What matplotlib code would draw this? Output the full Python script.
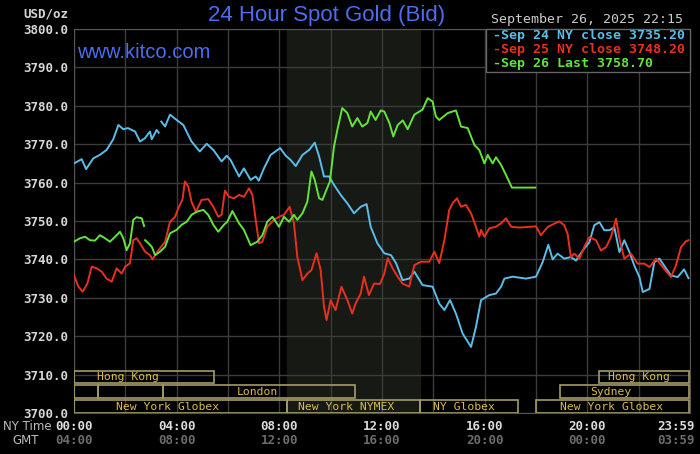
import numpy as np
import matplotlib.pyplot as plt
from matplotlib.patches import Rectangle
import matplotlib.transforms as mtransforms

# hodiny od 00:00 (NY cas), cena v USD/oz
sep24_h = [0.0, 0.3, 0.47, 0.75, 1.0, 1.27, 1.53, 1.73, 1.92, 2.1, 2.38, 2.57, 2.77, 2.96,
           3.03, 3.22, 3.3, 3.35, 3.4, 3.55, 3.74, 4.0, 4.26, 4.45, 4.58, 4.9, 5.17, 5.43,
           5.75, 5.95, 6.1, 6.43, 6.62, 6.88, 7.08, 7.2, 7.4, 7.66, 8.03, 8.25, 8.44, 8.64,
           8.9, 9.16, 9.38, 9.55, 9.74, 9.94, 10.13, 10.39, 10.65, 10.91, 11.17, 11.4, 11.56,
           11.82, 12.09, 12.35, 12.55, 12.8, 13.06, 13.26, 13.58, 13.97, 14.23, 14.43, 14.65,
           14.88, 15.14, 15.47, 15.66, 15.86, 16.18, 16.44, 16.64, 16.77, 17.09, 17.61, 18.0,
           18.26, 18.48, 18.65, 18.84, 19.1, 19.36, 19.56, 19.82, 20.08, 20.27, 20.47, 20.66,
           20.86, 21.05, 21.25, 21.44, 21.64, 21.83, 22.03, 22.16, 22.42, 22.61, 22.81, 23.06,
           23.26, 23.52, 23.77, 23.94]
sep24_p = [3765.0, 3766.1, 3763.5, 3766.3, 3767.2, 3768.5, 3771.3, 3775.0, 3773.9, 3774.2,
           3773.3, 3770.7, 3771.6, 3773.3, 3771.3, 3773.7, 3773.0, np.nan, 3775.9, 3774.6,
           3777.7, 3776.3, 3775.0, 3772.4, 3770.7, 3768.1, 3770.1, 3768.5, 3765.5, 3767.0,
           3765.9, 3761.6, 3763.7, 3760.7, 3761.6, 3760.5, 3763.7, 3767.2, 3769.0, 3767.0,
           3765.9, 3764.3, 3767.2, 3768.5, 3770.4, 3766.8, 3761.6, 3761.6, 3759.4, 3756.8,
           3754.6, 3752.0, 3753.7, 3754.4, 3748.5, 3744.2, 3741.6, 3741.1, 3739.0, 3734.6,
           3735.0, 3736.8, 3733.3, 3732.9, 3728.5, 3726.8, 3729.4, 3725.9, 3720.7, 3717.2,
           3722.4, 3729.4, 3730.7, 3731.1, 3732.9, 3735.0, 3735.5, 3735.0, 3735.5, 3739.3,
           3743.8, 3740.0, 3741.5, 3740.2, 3740.6, 3739.7, 3742.3, 3744.5, 3748.9, 3749.7,
           3747.6, 3747.6, 3748.4, 3741.9, 3745.0, 3741.9, 3738.4, 3735.4, 3731.5, 3732.3,
           3739.3, 3740.2, 3737.7, 3735.8, 3735.4, 3737.4, 3735.1]

sep25_h = [0.0, 0.17, 0.34, 0.52, 0.69, 0.88, 1.08, 1.27, 1.47, 1.66, 1.86, 1.99, 2.18, 2.31,
           2.44, 2.57, 2.77, 2.96, 3.06, 3.29, 3.55, 3.74, 3.94, 4.06, 4.23, 4.32, 4.45, 4.58,
           4.75, 4.97, 5.23, 5.43, 5.62, 5.75, 5.88, 6.04, 6.23, 6.43, 6.62, 6.82, 6.95, 7.08,
           7.21, 7.34, 7.53, 7.79, 7.99, 8.18, 8.4, 8.57, 8.7, 8.9, 9.09, 9.25, 9.45, 9.61,
           9.74, 9.84, 10.0, 10.19, 10.42, 10.65, 10.84, 10.97, 11.17, 11.3, 11.49, 11.69,
           11.92, 12.09, 12.22, 12.42, 12.61, 12.8, 13.06, 13.26, 13.52, 13.84, 14.04, 14.23,
           14.43, 14.62, 14.75, 14.92, 15.08, 15.27, 15.47, 15.66, 15.79, 15.86, 15.99, 16.18,
           16.44, 16.64, 16.83, 17.03, 17.35, 18.0, 18.19, 18.45, 18.71, 18.91, 19.1, 19.23,
           19.36, 19.49, 19.69, 19.88, 20.08, 20.34, 20.53, 20.73, 20.92, 21.12, 21.25, 21.44,
           21.7, 21.96, 22.22, 22.42, 22.68, 22.94, 23.26, 23.45, 23.65, 23.84, 23.94]
sep25_p = [3735.9, 3732.9, 3731.6, 3733.7, 3738.1, 3737.7, 3736.8, 3735.0, 3734.2, 3737.7,
           3736.3, 3738.1, 3739.0, 3745.0, 3745.5, 3744.2, 3742.0, 3741.1, 3740.0, 3742.4,
           3744.6, 3749.8, 3751.1, 3753.3, 3755.7, 3760.3, 3759.0, 3755.0, 3752.4, 3755.5,
           3755.7, 3753.7, 3751.1, 3751.6, 3757.9, 3756.3, 3755.9, 3756.8, 3756.3, 3758.5,
           3756.8, 3750.3, 3744.2, 3744.6, 3748.5, 3750.3, 3751.1, 3751.6, 3753.7, 3749.4,
           3740.7, 3734.6, 3736.3, 3737.2, 3741.6, 3737.2, 3727.7, 3724.2, 3729.4, 3726.8,
           3732.9, 3729.4, 3725.9, 3728.5, 3731.1, 3735.5, 3730.7, 3733.7, 3733.6, 3736.3,
           3740.3, 3737.6, 3735.5, 3733.7, 3732.9, 3738.5, 3739.4, 3739.4, 3742.0, 3739.0,
           3745.0, 3752.9, 3754.6, 3755.9, 3753.7, 3754.2, 3752.0, 3748.5, 3745.9, 3747.7,
           3745.9, 3748.1, 3748.5, 3749.4, 3750.7, 3748.5, 3748.3, 3748.6, 3746.3, 3748.4,
           3749.3, 3749.9, 3748.9, 3746.7, 3740.6, 3741.5, 3740.2, 3743.2, 3745.8, 3745.0,
           3742.3, 3743.2, 3745.8, 3750.6, 3745.4, 3740.2, 3741.5, 3738.9, 3738.9, 3738.0,
           3740.2, 3738.0, 3735.4, 3738.4, 3743.2, 3744.7, 3745.0]

sep26_h = [0.0, 0.23, 0.43, 0.62, 0.82, 1.01, 1.21, 1.4, 1.6, 1.79, 1.92, 2.05, 2.18, 2.31,
           2.44, 2.64, 2.73, 2.75, 2.77, 2.9, 3.03, 3.16, 3.35, 3.55, 3.74, 4.0, 4.19, 4.39,
           4.58, 4.78, 5.04, 5.23, 5.43, 5.62, 5.84, 5.97, 6.17, 6.43, 6.62, 6.88, 7.14, 7.34,
           7.53, 7.73, 7.99, 8.18, 8.38, 8.57, 8.7, 8.9, 9.09, 9.25, 9.38, 9.55, 9.68, 9.81,
           9.97, 10.13, 10.26, 10.45, 10.65, 10.84, 11.04, 11.23, 11.43, 11.56, 11.75, 11.95,
           12.09, 12.29, 12.44, 12.61, 12.81, 13.0, 13.26, 13.58, 13.78, 13.97, 14.1, 14.23,
           14.56, 14.88, 15.08, 15.34, 15.6, 15.79, 15.99, 16.12, 16.31, 16.44, 16.64, 16.83,
           17.06, 17.48, 17.97]
sep26_p = [3744.6, 3745.5, 3745.9, 3745.0, 3744.9, 3746.3, 3745.5, 3744.6, 3745.9, 3747.2,
           3745.5, 3742.4, 3744.2, 3750.3, 3751.0, 3750.7, 3748.7, np.nan, 3745.0, 3744.2,
           3743.3, 3741.1, 3742.0, 3743.3, 3746.8, 3747.7, 3749.0, 3749.8, 3751.6, 3752.4,
           3752.9, 3751.6, 3749.0, 3747.2, 3749.0, 3749.8, 3752.6, 3749.4, 3747.7, 3743.7,
           3744.6, 3746.3, 3749.8, 3751.1, 3748.5, 3751.1, 3749.8, 3751.6, 3750.3, 3752.0,
           3755.0, 3762.9, 3760.7, 3755.9, 3755.5, 3757.7, 3760.3, 3769.4, 3773.7, 3779.4,
           3778.1, 3774.6, 3776.8, 3774.6, 3775.5, 3778.5, 3776.3, 3778.8, 3778.5, 3775.5,
           3772.0, 3775.0, 3776.2, 3773.9, 3777.7, 3779.0, 3782.0, 3781.1, 3777.2, 3776.3,
           3778.1, 3778.8, 3774.6, 3774.2, 3769.8, 3768.5, 3765.0, 3767.2, 3765.0, 3766.6,
           3764.6, 3762.0, 3758.7, 3758.7, 3758.7]

legend_texts = ['-Sep 24 NY close 3735.20', '-Sep 25 NY close 3748.20', '-Sep 26 Last 3758.70']

# obchodni seance (radek 0 = dole)
sess_row = [2, 2, 1, 1, 1, 1, 0, 0, 0, 0]
sess_start = [0.0, 20.47, 0.0, 0.93, 3.46, 18.95, 0.0, 8.3, 13.5, 18.0]
sess_end = [5.45, 23.98, 0.93, 3.46, 10.93, 23.98, 8.3, 13.5, 17.3, 23.98]
sess_name = ['Hong Kong', 'Hong Kong', '', '', 'London', 'Sydney',
             'New York Globex', 'New York NYMEX', 'NY Globex', 'New York Globex']
sess_label_x = [2.1, 22.02, 0, 0, 7.16, 20.93, 3.66, 10.62, 15.18, 20.93]

ny_hours = [0, 4, 8, 12, 16, 20, 23.47]
ny_labels = ['00:00', '04:00', '08:00', '12:00', '16:00', '20:00', '23:59']
gmt_labels = ['04:00', '08:00', '12:00', '16:00', '20:00', '00:00', '03:59']

blue = '#5bbde9'
red = '#e8301e'
green = '#62e43a'
mono = 'DejaVu Sans Mono'

fig = plt.figure(figsize=(7, 4.54), dpi=100, facecolor='black')
ax = fig.add_axes([74 / 700, 41 / 454, 616 / 700, 384 / 454], facecolor='black')

ax.set_xlim(0, 24)
ax.set_ylim(3700, 3800)

# NYMEX seance - ztmavene pozadi
ax.axvspan(8.3, 13.5, color='#161914', zorder=0)

ax.set_xticks(np.arange(0, 25, 2))
ax.set_xticklabels([])
ax.set_yticks(np.arange(3700, 3801, 10))
ax.set_yticklabels(['{:.1f}'.format(v) for v in np.arange(3700, 3801, 10)],
                   fontfamily=mono, fontweight='bold', fontsize=9, color='#d6d6d6')
ax.tick_params(length=0, pad=4.5)
ax.grid(True, color='#3c3c3c', lw=1, zorder=1)
for s in ax.spines.values():
    s.set_color('#555555')

ax.plot(sep24_h, sep24_p, color=blue, lw=1.4, zorder=3)
ax.plot(sep25_h, sep25_p, color=red, lw=1.4, zorder=3)
ax.plot(sep26_h, sep26_p, color=green, lw=1.4, zorder=4)

# seance
row_base = [3700.0, 3703.9, 3707.7]
row_height = 3.35
for r, a, b, name, lx in zip(sess_row, sess_start, sess_end, sess_name, sess_label_x):
    ax.add_patch(Rectangle((a, row_base[r]), b - a, row_height, fill=False,
                           edgecolor='#a49c68', lw=1.2, zorder=5))
    if name:
        ax.text(lx, row_base[r] + row_height / 2, name, ha='center', va='center',
                fontfamily=mono, fontsize=8.2, color='#dcbb4c', zorder=6)

# casove popisky
trans = mtransforms.blended_transform_factory(ax.transData, fig.transFigure)
for hx, a, b in zip(ny_hours, ny_labels, gmt_labels):
    ax.text(hx, 1 - 427 / 454, a, transform=trans, ha='center', va='center',
            fontfamily=mono, fontweight='bold', fontsize=9, color='#dcdcdc')
    ax.text(hx, 1 - 441 / 454, b, transform=trans, ha='center', va='center',
            fontfamily=mono, fontweight='bold', fontsize=9, color='#6c6c6c')
fig.text(3 / 700, 1 - 427 / 454, 'NY Time', ha='left', va='center', fontsize=8.5, color='#bdbdbd')
fig.text(12 / 700, 1 - 441 / 454, 'GMT', ha='left', va='center', fontsize=8.5, color='#bdbdbd')

fig.text(68 / 700, 1 - 14 / 454, 'USD/oz', ha='right', va='center',
         fontfamily=mono, fontweight='bold', fontsize=9, color='#d6d6d6')

fig.text(327 / 700, 1 - 16 / 454, '24 Hour Spot Gold (Bid)', ha='center', va='center',
         fontfamily='Liberation Sans', fontsize=16, color='#4d6cf2')
fig.text(77 / 700, 1 - 52 / 454, 'www.kitco.com', ha='left', va='center',
         fontfamily='Liberation Sans', fontsize=14.5, color='#4d6cf2')

fig.text(491 / 700, 1 - 20 / 454, 'September 26, 2025 22:15', ha='left', va='center',
         fontfamily=mono, fontsize=9.5, color='#cccccc')

# legenda
fig.patches.append(Rectangle((486 / 700, 1 - 72 / 454), 204 / 700, 43 / 454,
                             transform=fig.transFigure, facecolor='black',
                             edgecolor='#666666', lw=1, zorder=2))
for i, (t, c) in enumerate(zip(legend_texts, [blue, red, green])):
    fig.text(493 / 700, 1 - (36 + 14 * i) / 454, t, ha='left', va='center',
             fontfamily=mono, fontweight='bold', fontsize=9.5, color=c, zorder=3)

fig.savefig('out.png', dpi=100, facecolor='black')
